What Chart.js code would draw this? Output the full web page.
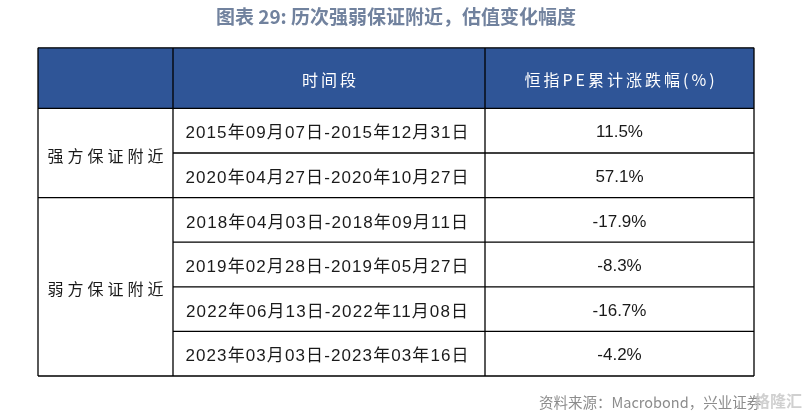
<!DOCTYPE html>
<html>
<head>
<meta charset="utf-8">
<script src="https://cdn.jsdelivr.net/npm/chart.js@4.4.1/dist/chart.umd.min.js"></script>
<style>
  html, body { margin: 0; padding: 0; background: #fff; }
  #wrap { width: 805px; height: 417px; }
</style>
</head>
<body>
<div id="wrap"><canvas id="tableChart" width="805" height="417"></canvas></div>
<script>
// table content
const headers = ['', '时间段', '恒指PE累计涨跌幅(%)'];
const groups = ['强方保证附近', '弱方保证附近'];
const groupSizes = [2, 4];
const periods = [
    '2015年09月07日-2015年12月31日',
    '2020年04月27日-2020年10月27日',
    '2018年04月03日-2018年09月11日',
    '2019年02月28日-2019年05月27日',
    '2022年06月13日-2022年11月08日',
    '2023年03月03日-2023年03年16日',
];
const peChange = [11.5, 57.1, -17.9, -8.3, -16.7, -4.2];

// layout units for the hidden axes
const colWidths = [135, 312, 269];
const headerHeight = 60.5;
const rowHeight = 44.5;

const tableWidth = colWidths.reduce((a, b) => a + b, 0);
const tableHeight = headerHeight + rowHeight * periods.length;

function spacedText(ctx, text, cx, cy, spacing) {
    ctx.letterSpacing = spacing + 'px';
    ctx.fillText(text, cx + spacing / 2, cy);
    ctx.letterSpacing = '0px';
}

const tablePlugin = {
    id: 'tableCells',
    afterDraw(chart) {
        const { ctx, scales: { x, y } } = chart;
        const px = v => x.getPixelForValue(v);
        const py = v => y.getPixelForValue(v);

        const colEdges = [0];
        colWidths.forEach(w => colEdges.push(colEdges[colEdges.length - 1] + w));
        const rowEdges = [0, headerHeight];
        periods.forEach(() => rowEdges.push(rowEdges[rowEdges.length - 1] + rowHeight));

        ctx.save();
        ctx.textAlign = 'center';
        ctx.textBaseline = 'middle';

        // header band
        ctx.fillStyle = '#2F5597';
        ctx.fillRect(px(0), py(0), px(tableWidth) - px(0), py(headerHeight) - py(0));

        ctx.fillStyle = '#ffffff';
        ctx.font = "16px 'Noto Sans CJK SC'";
        headers.forEach((h, i) => {
            if (!h) return;
            const cx = (px(colEdges[i]) + px(colEdges[i + 1])) / 2;
            spacedText(ctx, h, cx, py(headerHeight / 2) + 2, 3);
        });

        // group labels
        ctx.fillStyle = '#1a1a1a';
        ctx.font = "16px 'Noto Sans CJK SC'";
        let start = 0;
        groups.forEach((g, gi) => {
            const top = rowEdges[1 + start];
            const bottom = rowEdges[1 + start + groupSizes[gi]];
            const cx = (px(colEdges[0]) + px(colEdges[1])) / 2;
            spacedText(ctx, g, cx, (py(top) + py(bottom)) / 2 + 2.5, 4);
            start += groupSizes[gi];
        });

        // periods and values
        periods.forEach((p, i) => {
            const cy = (py(rowEdges[i + 1]) + py(rowEdges[i + 2])) / 2;
            ctx.font = "17px 'Liberation Sans', 'Noto Sans CJK SC'";
            spacedText(ctx, p, (px(colEdges[1]) + px(colEdges[2])) / 2 - 2, cy + 3, 1.1);
            ctx.font = "17px 'Liberation Sans', 'Noto Sans CJK SC'";
            ctx.fillText(peChange[i].toFixed(1) + '%', (px(colEdges[2]) + px(colEdges[3])) / 2, cy + 2);
        });

        // grid lines
        ctx.strokeStyle = '#000000';
        ctx.lineWidth = 1.3;
        ctx.beginPath();
        colEdges.forEach(c => {
            ctx.moveTo(px(c), py(0));
            ctx.lineTo(px(c), py(tableHeight));
        });
        const groupBreaks = [0];
        groupSizes.forEach(s => groupBreaks.push(groupBreaks[groupBreaks.length - 1] + s));
        rowEdges.forEach((r, i) => {
            const full = i === 0 || groupBreaks.includes(i - 1);
            ctx.moveTo(px(full ? 0 : colEdges[1]), py(r));
            ctx.lineTo(px(tableWidth), py(r));
        });
        ctx.stroke();

        // source note and watermark
        ctx.textAlign = 'left';
        ctx.fillStyle = '#8c8c8c';
        ctx.font = "14.5px 'Noto Sans CJK SC'";
        ctx.fillText('资料来源：Macrobond，兴业证券', 539, 402);
        ctx.fillStyle = 'rgba(200,200,200,0.85)';
        ctx.font = "bold 16px 'Noto Sans CJK SC'";
        ctx.fillText('格隆汇', 754, 401);
        ctx.restore();
    },
};

new Chart(document.getElementById('tableChart'), {
    type: 'scatter',
    data: { datasets: [] },
    options: {
        responsive: false,
        animation: false,
        layout: { padding: { left: 38, right: 51, top: 0, bottom: 41 } },
        plugins: {
            legend: { display: false },
            tooltip: { enabled: false },
            title: {
                display: true,
                text: '图表 29: 历次强弱保证附近，估值变化幅度',
                color: '#71829E',
                font: { family: "'Noto Sans CJK SC'", size: 19, weight: 'bold' },
                padding: { top: 5, bottom: 20 },
            },
        },
        scales: {
            x: { type: 'linear', display: false, min: 0, max: tableWidth },
            y: { type: 'linear', display: false, min: 0, max: tableHeight, reverse: true },
        },
    },
    plugins: [tablePlugin],
});
</script>
</body>
</html>
